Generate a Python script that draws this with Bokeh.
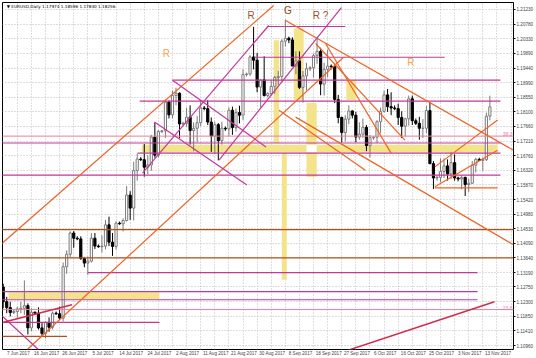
from bokeh.plotting import figure
from bokeh.models import ColumnDataSource, FixedTicker, Label
from bokeh.embed import file_html
from bokeh.resources import INLINE
from bokeh.core.properties import value

# ---------------- candle data (EURUSD Daily, broker with Sunday bars) -------------
opens = [1.1275,1.1230,1.1212,1.1197,1.1200,1.1208,1.1210,1.1218,1.1150,1.1198,
         1.1195,1.1150,1.1133,1.1167,1.1152,1.1195,1.1193,1.1180,1.1337,1.1375,
         1.1440,1.1424,1.1422,1.1362,1.1348,1.1354,1.1424,1.1400,1.1398,1.1400,
         1.1465,1.1412,1.1399,1.1470,1.1468,1.1478,1.1556,1.1516,1.1631,1.1666,
         1.1664,1.1641,1.1648,1.1733,1.1678,1.1750,1.1752,1.1840,1.1801,1.1860,
         1.1867,1.1773,1.1775,1.1794,1.1753,1.1760,1.1777,1.1822,1.1820,1.1779,
         1.1736,1.1771,1.1722,1.1760,1.1758,1.1815,1.1762,1.1808,1.1800,1.1924,
         1.1926,1.1978,1.1968,1.1886,1.1908,1.1860,1.1866,1.1888,1.1915,1.1918,
         1.2026,1.2035,1.2030,1.1950,1.1966,1.1885,1.1920,1.1942,1.1945,1.1982,
         1.1995,1.1895,1.1940,1.1950,1.1948,1.1848,1.1793,1.1747,1.1788,1.1813,
         1.1800,1.1733,1.1742,1.1763,1.1707,1.1731,1.1733,1.1780,1.1812,1.1862,
         1.1826,1.1822,1.1820,1.1793,1.1766,1.1789,1.1850,1.1783,1.1775,1.1760,
         1.1760,1.1814,1.1652,1.1608,1.1610,1.1628,1.1645,1.1620,1.1655,1.1608,
         1.1605,1.1610,1.1588,1.1592,1.1647,1.1665,1.1662,1.1664,1.17974]
highs = [1.1285,1.1245,1.1230,1.1205,1.1215,1.1230,1.1295,1.1225,1.1210,1.1200,
         1.1213,1.1165,1.1170,1.1182,1.1200,1.1200,1.1215,1.1350,1.1387,1.1445,
         1.1446,1.1430,1.1430,1.1367,1.1368,1.1440,1.1440,1.1405,1.1433,1.1480,
         1.1490,1.1440,1.1476,1.1475,1.1485,1.1583,1.1568,1.1658,1.1683,1.1672,
         1.1712,1.1677,1.1740,1.1777,1.1755,1.1755,1.1848,1.1845,1.1875,1.1884,
         1.1870,1.1780,1.1823,1.1830,1.1778,1.1797,1.1845,1.1828,1.1846,1.1793,
         1.1780,1.1776,1.1780,1.1765,1.1824,1.1826,1.1820,1.1829,1.1940,1.1930,
         1.1983,1.2070,1.1990,1.1910,1.1980,1.1870,1.1908,1.1920,1.1935,1.2032,
         1.2092,1.2040,1.2038,1.1995,1.1995,1.1935,1.1960,1.1950,1.1988,1.2034,
         1.2006,1.1960,1.2000,1.1955,1.1955,1.1862,1.1796,1.1800,1.1830,1.1815,
         1.1810,1.1778,1.1790,1.1770,1.1740,1.1735,1.1785,1.1823,1.1875,1.1880,
         1.1870,1.1830,1.1835,1.1812,1.1792,1.1860,1.1860,1.1790,1.1795,1.1788,
         1.1828,1.1838,1.1660,1.1615,1.1668,1.1668,1.1665,1.1688,1.1680,1.1612,
         1.1616,1.1612,1.1606,1.1660,1.1670,1.1670,1.1670,1.1808,1.18596]
lows = [1.1210,1.1195,1.1185,1.1192,1.1180,1.1195,1.1190,1.1130,1.1140,1.1190,
        1.1145,1.1125,1.1118,1.1138,1.1145,1.1190,1.1175,1.1170,1.1315,1.1365,
        1.1395,1.1418,1.1358,1.1335,1.1312,1.1350,1.1391,1.1395,1.1380,1.1390,
        1.1400,1.1370,1.1390,1.1465,1.1445,1.1475,1.1480,1.1478,1.1600,1.1660,
        1.1612,1.1620,1.1630,1.1670,1.1671,1.1745,1.1730,1.1790,1.1790,1.1830,
        1.1730,1.1768,1.1765,1.1710,1.1690,1.1717,1.1767,1.1815,1.1770,1.1688,
        1.1681,1.1662,1.1710,1.1752,1.1735,1.1740,1.1750,1.1775,1.1785,1.1918,
        1.1920,1.1940,1.1870,1.1823,1.1857,1.1855,1.1860,1.1865,1.1893,1.1905,
        1.2010,1.2020,1.1950,1.1925,1.1880,1.1838,1.1875,1.1935,1.1915,1.1957,
        1.1861,1.1860,1.1915,1.1940,1.1837,1.1775,1.1717,1.1720,1.1772,1.1790,
        1.1717,1.1725,1.1730,1.1690,1.1670,1.1725,1.1715,1.1745,1.1808,1.1810,
        1.1800,1.1815,1.1770,1.1730,1.1735,1.1768,1.1770,1.1770,1.1725,1.1730,
        1.1745,1.1650,1.1574,1.1600,1.1595,1.1608,1.1600,1.1605,1.1600,1.1598,
        1.1573,1.1553,1.1565,1.1590,1.1625,1.1660,1.1630,1.1660,1.17840]
closes = [1.1230,1.1212,1.1197,1.1200,1.1208,1.1210,1.1218,1.1150,1.1198,1.1195,
          1.1150,1.1133,1.1167,1.1152,1.1195,1.1193,1.1180,1.1337,1.1375,1.1440,
          1.1424,1.1422,1.1362,1.1348,1.1354,1.1424,1.1400,1.1398,1.1400,1.1465,
          1.1412,1.1399,1.1470,1.1468,1.1478,1.1556,1.1516,1.1631,1.1666,1.1664,
          1.1641,1.1648,1.1733,1.1678,1.1750,1.1752,1.1840,1.1801,1.1860,1.1867,
          1.1773,1.1775,1.1794,1.1753,1.1760,1.1777,1.1822,1.1820,1.1779,1.1736,
          1.1771,1.1722,1.1760,1.1758,1.1815,1.1762,1.1808,1.1800,1.1924,1.1926,
          1.1978,1.1968,1.1886,1.1908,1.1860,1.1866,1.1888,1.1915,1.1918,1.2026,
          1.2035,1.2030,1.1950,1.1966,1.1885,1.1920,1.1942,1.1945,1.1982,1.1995,
          1.1895,1.1940,1.1950,1.1948,1.1848,1.1793,1.1747,1.1788,1.1813,1.1800,
          1.1733,1.1742,1.1763,1.1707,1.1731,1.1733,1.1780,1.1812,1.1862,1.1826,
          1.1822,1.1820,1.1793,1.1766,1.1789,1.1850,1.1783,1.1775,1.1760,1.1760,
          1.1814,1.1652,1.1608,1.1610,1.1628,1.1645,1.1620,1.1655,1.1608,1.1605,
          1.1610,1.1588,1.1592,1.1647,1.1665,1.1662,1.1664,1.1797,1.18256]

# date labels every 8 bars
date_label_bars = [0, 8, 16, 24, 32, 40, 48, 56, 64, 72, 80, 88, 96, 104, 112, 120, 128, 136]
date_labels = ["7 Jun 2017", "16 Jun 2017", "26 Jun 2017", "5 Jul 2017", "14 Jul 2017",
               "24 Jul 2017", "2 Aug 2017", "11 Aug 2017", "21 Aug 2017", "30 Aug 2017",
               "8 Sep 2017", "18 Sep 2017", "27 Sep 2017", "6 Oct 2017", "16 Oct 2017",
               "25 Oct 2017", "3 Nov 2017", "13 Nov 2017"]
price_ticks = [1.10960, 1.11410, 1.11850, 1.12300, 1.12750, 1.13190, 1.13640, 1.14090,
               1.14530, 1.14980, 1.15420, 1.15870, 1.16320, 1.16760, 1.17210, 1.17660,
               1.18100, 1.18550, 1.18990, 1.19440, 1.19890, 1.20330, 1.20780, 1.21230]
header = "\u25BC EURUSD,Daily  1.17974 1.18596 1.17840 1.18256"
last_price = 1.18256

# ---------------- drawn objects (bar index, price) ----------------
hl_price = [1.2071, 1.1977, 1.1907, 1.1843, 1.1715, 1.1684, 1.1617, 1.1319, 1.1261, 1.1236, 1.1167]
hl_from = [74.8, 71.1, 48.0, 38.7, -1, 38.1, -1, 24.0, -1, -1, -1]
hl_to = [97.0, 125.2, 141.0, 141.0, 141.0, 141.0, 141.0, 134.5, 134.5, 134.5, 44.3]
bl_price = [1.1450, 1.1364, 1.1124]
bl_from = [-1, -1, -1]
bl_to = [150, 150, 18.1]
fib_price = [1.1736, 1.1206]
fib_text = ["38.2", "23.6"]
zone_left = [1.5, 39.3, 76.7, 79.0, 82.4, 86.0, 97.3]
zone_right = [44.3, 140.2, 78.2, 80.4, 85.2, 88.9, 100.1]
zone_top = [1.1259, 1.1710, 1.2029, 1.1684, 1.2065, 1.1837, 1.1907]
zone_bottom = [1.1238, 1.1686, 1.1715, 1.1297, 1.1846, 1.1611, 1.1846]
# overlap of two zones (drawn blank, as on the terminal)
gap_left, gap_right, gap_top, gap_bottom = [86.0], [88.9], [1.1710], [1.1686]
ot_x0 = [-0.8, 6.85, 80.1, 88.6, 91.4, 78.2, 82.9, 122.4, 122.4, 122.4]
ot_y0 = [1.1404, 1.1084, 1.2089, 1.2019, 1.2019, 1.1815, 1.1794, 1.1642, 1.1581, 1.1578]
ot_x1 = [76.7, 96.5, 144.7, 113.9, 110.0, 102.7, 144.7, 140.2, 140.2, 140.2]
ot_y1 = [1.2135, 1.1977, 1.1693, 1.1724, 1.1684, 1.1632, 1.1404, 1.1785, 1.1693, 1.1578]
mt_x0 = [39.5, 61.2, 48.0, 42.9, -0.76]
mt_y0 = [1.1623, 1.1663, 1.1907, 1.1779, 1.1191]
mt_x1 = [75.3, 95.9, 74.5, 69.1, 9.95]
mt_y1 = [1.2074, 1.2129, 1.1703, 1.1587, 1.1084]
rt_x0 = [0.08, 96.5]
rt_y0 = [1.1167, 1.1077]
rt_x1 = [19.5, 139.3]
rt_y1 = [1.1221, 1.1230]
mark_x = [46.3, 115.6, 70.3, 80.7, 90.0]
mark_y = [1.1989, 1.1962, 1.2105, 1.2120, 1.2105]
mark_text = ["R", "R", "R", "G", "R ?"]
mark_color = ["#F4A64A", "#F4A64A", "#A0522D", "#8B4513", "#A0522D"]

X_START, X_END = -0.2, 144.7
Y_START, Y_END = 1.10840, 1.21443

p = figure(width=536, height=358, x_range=(X_START, X_END), y_range=(Y_START, Y_END),
           output_backend="svg", toolbar_location=None, y_axis_location="right")
p.min_border_left = 2
p.min_border_top = 2
p.min_border_right = 0
p.min_border_bottom = 0
p.outline_line_color = "black"
p.outline_line_width = 1
p.background_fill_color = "white"

ax = p.xaxis[0]
ax.ticker = FixedTicker(ticks=[b + 4.3 for b in date_label_bars])
ax.major_label_overrides = {b + 4.3: t for b, t in zip(date_label_bars, date_labels)}
ax.major_tick_line_color = None
ax.minor_tick_line_color = None
ax.major_tick_out = 0
ax.major_tick_in = 0
ax.minor_tick_out = 0
ax.minor_tick_in = 0
ax.axis_line_color = None
ax.major_label_text_font = "Liberation Sans"
ax.major_label_text_font_size = "4.6px"
ax.major_label_standoff = 1
ay = p.yaxis[0]
ay.ticker = FixedTicker(ticks=price_ticks)
ay.major_label_overrides = {t: "%.5f" % t for t in price_ticks}
ay.major_tick_out = 2
ay.major_tick_in = 0
ay.minor_tick_out = 0
ay.minor_tick_in = 0
ay.minor_tick_line_color = None
ay.axis_line_color = None
ay.major_label_text_font = "Liberation Sans"
ay.major_label_text_font_size = "4.6px"
ay.major_label_standoff = 1

p.xgrid.ticker = FixedTicker(ticks=list(range(4, 145, 4)))
p.ygrid.ticker = FixedTicker(ticks=price_ticks)
for g in (p.xgrid[0], p.ygrid[0]):
    g.grid_line_color = "#BDBDBD"
    g.grid_line_dash = "1 2"
    g.grid_line_width = 1

p.quad(left=zone_left, right=zone_right, top=zone_top, bottom=zone_bottom,
       fill_color="#F3E38A", line_color=None, fill_alpha=1.0)
p.quad(left=gap_left, right=gap_right, top=gap_top, bottom=gap_bottom,
       fill_color="white", line_color=None)

n = len(opens)
xs = list(range(n))
bull = [c >= o for o, c in zip(opens, closes)]
src = ColumnDataSource(dict(
    x=xs, h=highs, l=lows,
    top=[max(o, c) for o, c in zip(opens, closes)],
    bot=[min(o, c) for o, c in zip(opens, closes)],
    fill=["white" if b else "black" for b in bull],
    line=["#7A7A7A" if b else "black" for b in bull]))
p.segment(x0="x", y0="h", x1="x", y1="l", line_color="line", line_width=1, source=src)
p.vbar(x="x", width=0.62, top="top", bottom="bot", fill_color="fill", line_color="line",
       line_width=1, source=src)

p.segment(x0=hl_from, y0=hl_price, x1=hl_to, y1=hl_price, line_color="#C2389A", line_width=1.2)
p.segment(x0=bl_from, y0=bl_price, x1=bl_to, y1=bl_price, line_color="#B0501E", line_width=1.3)
p.segment(x0=[X_START - 1] * 2, y0=fib_price, x1=[X_END + 1] * 2, y1=fib_price,
          line_color="#EE7D9C", line_width=1)
p.segment(x0=ot_x0, y0=ot_y0, x1=ot_x1, y1=ot_y1, line_color="#EE6325", line_width=1.2)
p.segment(x0=mt_x0, y0=mt_y0, x1=mt_x1, y1=mt_y1, line_color="#C2389A", line_width=1.2)
p.segment(x0=rt_x0, y0=rt_y0, x1=rt_x1, y1=rt_y1, line_color="#D42A4C", line_width=1.5)

p.text(x=mark_x, y=mark_y, text=mark_text, text_color=mark_color,
       text_font=value("Liberation Sans"), text_font_size="10px",
       text_align="center", text_baseline="middle")
p.text(x=[X_END - 0.3] * 2, y=fib_price, text=fib_text, text_color="#EE7D9C",
       text_font=value("Liberation Sans"), text_font_size="5px",
       text_align="right", text_baseline="bottom")
p.text(x=[X_START + 1.2], y=[1.2131], text=[header], text_color="black",
       text_font=value("DejaVu Sans"), text_font_size="4.2px",
       text_align="left", text_baseline="middle")

p.add_layout(Label(x=X_END, y=last_price, text="%.5f" % last_price, x_offset=1,
                   text_font="Liberation Sans", text_font_size="4.6px",
                   text_color="white", text_baseline="middle",
                   background_fill_color="black", padding=1))

open("out.html", "w").write(file_html(p, INLINE))
